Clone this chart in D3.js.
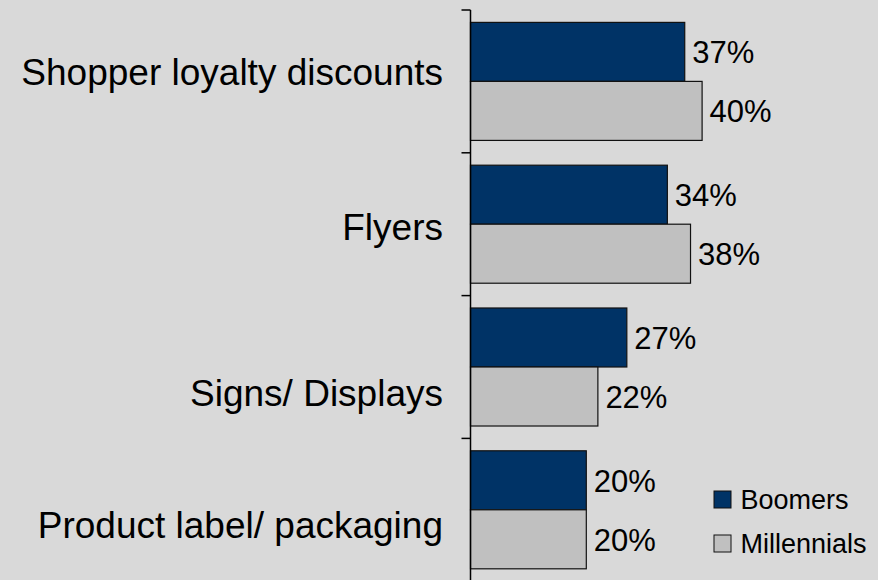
<!DOCTYPE html>
<html>
<head>
<meta charset="utf-8">
<script src="https://cdn.jsdelivr.net/npm/d3@7"></script>
<style>
  html, body { margin: 0; padding: 0; background: #d9d9d9; }
  svg { display: block; }
  text { font-family: "Liberation Sans", Arial, Helvetica, sans-serif; fill: #000; }
</style>
</head>
<body>
<svg id="chart" width="878" height="580"></svg>
<script>
// Survey categories (top to bottom) and share of each generation
const categories = ["Shopper loyalty discounts", "Flyers", "Signs/ Displays", "Product label/ packaging"];
const seriesNames = ["Boomers", "Millennials"];
const boomers = [37, 34, 27, 20];
const millennials = [40, 38, 22, 20];
const seriesColors = ["#003366", "#c0c0c0"];

// Vertical fine-tuning of the category captions (px)
const captionShift = [-9, 3, 26, 15];

const W = 878, H = 580;
const svg = d3.select("#chart");

svg.append("rect").attr("width", W).attr("height", H).attr("fill", "#d9d9d9");

const x = d3.scaleLinear().domain([0, 70]).range([470.5, 875.8]);
const y = d3.scaleBand().domain(categories).range([10, 581.2]).padding(0);
const ySeries = d3.scaleBand().domain(seriesNames).range([0, y.bandwidth()])
  .paddingInner(0).paddingOuter(0.21);

const rows = categories.map((c, i) => ({
  category: c,
  shift: captionShift[i],
  values: [boomers[i], millennials[i]]
}));

// Bars
const groups = svg.append("g").selectAll("g.row")
  .data(rows).join("g")
  .attr("class", "row")
  .attr("transform", d => `translate(0,${y(d.category)})`);

groups.selectAll("rect")
  .data(d => d.values.map((v, j) => ({ series: seriesNames[j], value: v, j })))
  .join("rect")
  .attr("x", x(0))
  .attr("y", d => ySeries(d.series))
  .attr("width", d => x(d.value) - x(0))
  .attr("height", ySeries.bandwidth())
  .attr("fill", d => seriesColors[d.j])
  .attr("stroke", "#111")
  .attr("stroke-width", 1.2);

// Value labels
groups.selectAll("text.val")
  .data(d => d.values.map((v, j) => ({ series: seriesNames[j], value: v })))
  .join("text")
  .attr("class", "val")
  .attr("x", d => x(d.value) + 7.5)
  .attr("y", d => ySeries(d.series) + ySeries.bandwidth() / 2 + 11.5)
  .attr("font-size", 31)
  .text(d => d.value + "%");

// Category axis: line plus ticks on band boundaries
const axis = svg.append("g");
axis.append("line")
  .attr("x1", x(0)).attr("x2", x(0))
  .attr("y1", y.range()[0]).attr("y2", H + 2)
  .attr("stroke", "#000").attr("stroke-width", 1.5);
axis.selectAll("line.tick")
  .data(categories).join("line")
  .attr("class", "tick")
  .attr("x1", x(0) - 9).attr("x2", x(0))
  .attr("y1", d => y(d)).attr("y2", d => y(d))
  .attr("stroke", "#000").attr("stroke-width", 1.5);

// Category captions
svg.append("g").selectAll("text")
  .data(rows).join("text")
  .attr("x", 443)
  .attr("y", d => y(d.category) + y.bandwidth() / 2 + 13 + d.shift)
  .attr("text-anchor", "end")
  .attr("font-size", 37)
  .text(d => d.category);

// Legend
const legend = svg.append("g").attr("transform", "translate(714,491)");
const items = legend.selectAll("g").data(seriesNames).join("g")
  .attr("transform", (d, i) => `translate(0,${i * 44})`);
items.append("rect")
  .attr("width", 17).attr("height", 17)
  .attr("fill", (d, i) => seriesColors[i])
  .attr("stroke", "#111").attr("stroke-width", 1);
items.append("text")
  .attr("x", 26.5).attr("y", 18)
  .attr("font-size", 27)
  .text(d => d);
</script>
</body>
</html>
